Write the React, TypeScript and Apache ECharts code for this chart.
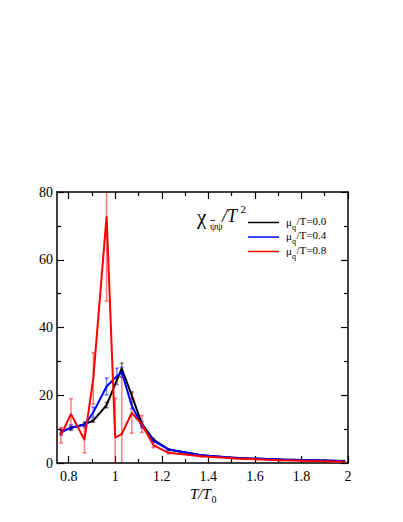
import React, { useEffect, useRef } from 'react';
import * as echarts from 'echarts';

// ---- data ----
const xBlack = [0.767, 0.81, 0.87, 0.906, 0.963, 1.028, 1.071, 1.114, 1.164, 1.229, 1.37, 1.52, 1.71, 1.98];
const yBlack = [9.4, 10.3, 11.5, 12.5, 17.1, 27.9, 20.0, 11.6, 6.9, 4.0, 2.3, 1.5, 1.0, 0.6];
const eBlack = [0.6, 0.5, 0.5, 0.5, 0.8, 1.6, 1.0, 0.6, 0.4, 0.2, 0.1, 0.1, 0.1, 0.1];

const xBlue = [0.767, 0.81, 0.87, 0.906, 0.963, 1.007, 1.028, 1.071, 1.114, 1.164, 1.229, 1.37, 1.52, 1.71, 1.98];
const yBlue = [9.0, 10.5, 11.3, 15.0, 22.6, 25.6, 26.8, 17.0, 11.0, 6.5, 4.0, 2.3, 1.5, 1.0, 0.6];
const eBlue = [0.8, 0.8, 0.8, 1.5, 2.5, 2.4, 1.5, 1.0, 0.6, 0.3, 0.2, 0.1, 0.1, 0.1, 0.1];

const xRed = [0.767, 0.81, 0.868, 0.906, 0.963, 1.0, 1.028, 1.071, 1.114, 1.164, 1.229, 1.37, 1.52, 1.71, 1.98];
const yRed = [8.2, 14.5, 6.8, 25.0, 72.8, 7.5, 8.5, 14.8, 11.5, 5.3, 3.0, 2.0, 1.3, 0.8, 0.4];
const eRed = [2.3, 4.5, 3.8, 7.6, 25.0, 11.6, 17.0, 6.0, 2.5, 0.8, 0.3, 0.2, 0.1, 0.1, 0.1];

const xMajor = [0.8, 1.0, 1.2, 1.4, 1.6, 1.8, 2.0];
const xMinor = [0.9, 1.1, 1.3, 1.5, 1.7, 1.9];
const seriesLabels = ['0.0', '0.4', '0.8'];
const seriesColors = ['#000000', '#0000ff', '#ff0000'];
const errColors = ['rgba(0,0,0,0.5)', 'rgba(0,0,255,0.5)', 'rgba(255,0,0,0.5)'];

const X_MIN = 0.75;
const X_MAX = 2;
const Y_MIN = 0;
const Y_MAX = 80;

const FONT = "'Liberation Serif', 'Times New Roman', serif";

function errSeries(xs: number[], ys: number[], es: number[], color: string, z: number) {
  return {
    type: 'custom',
    xAxisIndex: 0,
    yAxisIndex: 0,
    clip: true,
    z,
    silent: true,
    data: xs.map((x, i) => [x, ys[i] - es[i], ys[i] + es[i]]),
    encode: { x: 0, y: [1, 2] },
    renderItem: (params: any, api: any) => {
      const x = api.value(0);
      const lo = api.value(1);
      const hi = api.value(2);
      const loC = Math.max(Y_MIN, lo);
      const hiC = Math.min(Y_MAX, hi);
      const p1 = api.coord([x, loC]);
      const p2 = api.coord([x, hiC]);
      const w = 2;
      const st = { stroke: color, lineWidth: 1.5 };
      const children: any[] = [
        { type: 'line', shape: { x1: p1[0], y1: p1[1], x2: p2[0], y2: p2[1] }, style: st },
      ];
      if (lo >= Y_MIN) children.push({ type: 'line', shape: { x1: p1[0] - w, y1: p1[1], x2: p1[0] + w, y2: p1[1] }, style: st });
      if (hi <= Y_MAX) children.push({ type: 'line', shape: { x1: p2[0] - w, y1: p2[1], x2: p2[0] + w, y2: p2[1] }, style: st });
      return { type: 'group', children };
    },
  };
}

function lineSeries(name: string, xs: number[], ys: number[], color: string, z: number) {
  return {
    name,
    type: 'line',
    xAxisIndex: 0,
    yAxisIndex: 0,
    z,
    symbol: 'none',
    clip: true,
    data: xs.map((x, i) => [x, ys[i]]),
    lineStyle: { color, width: 2 },
    itemStyle: { color },
  };
}

const fmt = (v: number) => String(+v.toFixed(1));

function xAxisDef(position: 'top' | 'bottom', ticks: number[], len: number, showLine: boolean, showLabel: boolean) {
  return {
    type: 'value',
    gridIndex: 0,
    position,
    min: X_MIN,
    max: X_MAX,
    axisLine: { show: showLine, onZero: false, lineStyle: { color: '#000', width: 1.5 } },
    axisTick: { show: true, inside: true, length: len, customValues: ticks, lineStyle: { color: '#000', width: 1.2 } },
    axisLabel: showLabel
      ? { show: true, customValues: ticks, formatter: fmt, fontFamily: FONT, fontSize: 14, color: '#000', margin: 6 }
      : { show: false },
    splitLine: { show: false },
  };
}

function yAxisDef(position: 'left' | 'right', showLabel: boolean) {
  return {
    type: 'value',
    position,
    min: Y_MIN,
    max: Y_MAX,
    interval: 20,
    axisLine: { show: true, onZero: false, lineStyle: { color: '#000', width: 1.5 } },
    axisTick: { show: true, inside: true, length: 7, lineStyle: { color: '#000', width: 1.2 } },
    minorTick: { show: true, splitNumber: 2, length: 4, lineStyle: { color: '#000', width: 1.2 } },
    axisLabel: showLabel
      ? { show: true, fontFamily: FONT, fontSize: 14, color: '#000', margin: 4 }
      : { show: false },
    splitLine: { show: false },
    minorSplitLine: { show: false },
  };
}

function txt(x: number, y: number, text: string, size: number, italic = false) {
  return {
    type: 'text',
    x,
    y,
    style: {
      text,
      font: `${italic ? 'italic ' : ''}${size}px ${FONT}`,
      fill: '#000',
      verticalAlign: 'middle',
    },
  };
}

function legendGraphics() {
  const out: any[] = [];
  const ys = [222.5, 237, 251.5];
  seriesLabels.forEach((lab, i) => {
    const y = ys[i];
    out.push({ type: 'line', shape: { x1: 248, y1: y, x2: 279, y2: y }, style: { stroke: seriesColors[i], lineWidth: 1.5 } });
    out.push(txt(286, y - 1, 'μ', 11));
    out.push(txt(292, y + 4.5, 'q', 8));
    out.push(txt(296.5, y - 2, '/T=' + lab, 11));
  });
  // Title: chi_{psibar psi}/T^2
  out.push(txt(197, 217, 'χ', 21));
  out.push(txt(210, 226, 'ψψ', 10));
  out.push({ type: 'line', shape: { x1: 210.5, y1: 220.5, x2: 215, y2: 220.5 }, style: { stroke: '#000', lineWidth: 0.8 } });
  out.push(txt(222, 216, '/T', 18, true));
  out.push(txt(240.5, 209, '2', 11));
  // x-axis title T/T0
  out.push(txt(190, 494, 'T/T', 15, true));
  out.push(txt(211.5, 499, '0', 10));
  return out;
}

export default function App() {
  const ref = useRef<HTMLDivElement>(null);
  useEffect(() => {
    if (!ref.current) return;
    const chart = echarts.init(ref.current, null, { renderer: 'svg' });
    const option: any = {
      animation: false,
      backgroundColor: '#ffffff',
      textStyle: { fontFamily: FONT },
      grid: { left: 57, right: 55, top: 192, bottom: 59, containLabel: false },
      xAxis: [
        xAxisDef('bottom', xMajor, 7, true, true),
        xAxisDef('bottom', xMinor, 4, false, false),
        xAxisDef('top', xMajor, 7, true, false),
        xAxisDef('top', xMinor, 4, false, false),
      ],
      yAxis: [yAxisDef('left', true), yAxisDef('right', false)],
      series: [
        errSeries(xBlack, yBlack, eBlack, errColors[0], 1),
        errSeries(xBlue, yBlue, eBlue, errColors[1], 1),
        errSeries(xRed, yRed, eRed, errColors[2], 1),
        lineSeries('μq/T=0.0', xBlack, yBlack, seriesColors[0], 2),
        lineSeries('μq/T=0.4', xBlue, yBlue, seriesColors[1], 3),
        lineSeries('μq/T=0.8', xRed, yRed, seriesColors[2], 4),
      ],
      graphic: legendGraphics(),
    };
    chart.setOption(option);
    return () => chart.dispose();
  }, []);
  return <div ref={ref} style={{ position: 'absolute', left: 0, top: 0, width: 403, height: 522 }} />;
}
